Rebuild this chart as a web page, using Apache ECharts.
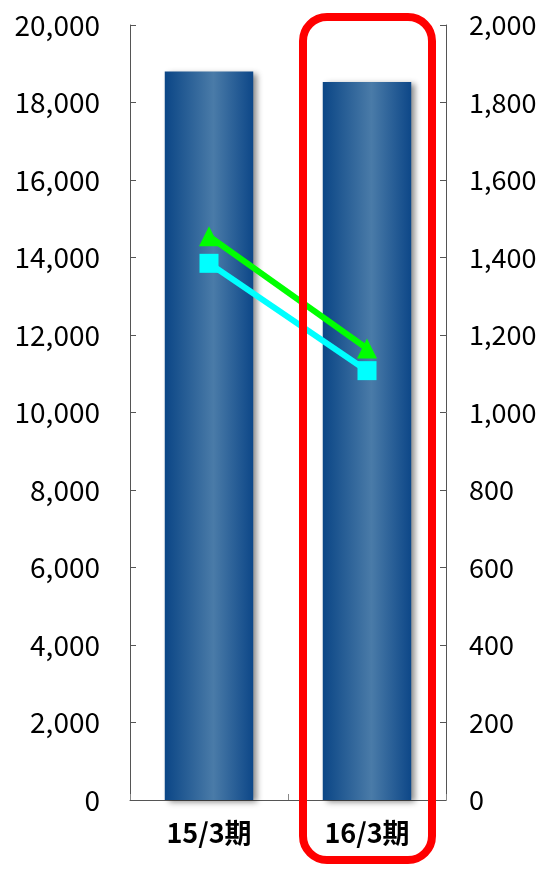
<!DOCTYPE html>
<html><head><meta charset="utf-8">
<script src="https://cdn.jsdelivr.net/npm/echarts@6/dist/echarts.min.js"></script>
<style>html,body{margin:0;padding:0;background:#fff}#c{width:537px;height:870px}</style>
</head><body><div id="c"></div>
<script>
const categories = ['15/3期', '16/3期'];
const barValues = [18800, 18530];
const greenValues = [1455, 1165];
const cyanValues = [1385, 1108];
const leftTicks = [0, 20000, 2000];
const rightTicks = [0, 2000, 200];

const FONT = '"Noto Sans CJK JP", sans-serif';
const chart = echarts.init(document.getElementById('c'), null, {renderer: 'canvas'});
const barGrad = new echarts.graphic.LinearGradient(0, 0, 1, 0, [
  {offset: 0, color: '#0b4686'},
  {offset: 0.55, color: '#4a7ba8'},
  {offset: 1, color: '#0d4788'}
]);
chart.setOption({
  animation: false,
  grid: {left: 130, right: 91, top: 25, bottom: 70, outerBoundsMode: 'none', containLabel: false},
  xAxis: {
    type: 'category', data: categories,
    axisLine: {lineStyle: {color: '#555', width: 1}},
    axisTick: {show: true, inside: true, length: 6, lineStyle: {color: '#888'}},
    axisLabel: {fontFamily: FONT, fontSize: 27, fontWeight: 'bold', color: '#000', margin: 19}
  },
  yAxis: [
    {type: 'value', min: leftTicks[0], max: leftTicks[1], interval: leftTicks[2], position: 'left',
     axisLine: {show: true, lineStyle: {color: '#555'}},
     axisTick: {show: true, inside: true, length: 6, lineStyle: {color: '#555'}},
     splitLine: {show: false},
     axisLabel: {fontFamily: FONT, fontSize: 28, color: '#000', margin: 30,
       formatter: v => v.toLocaleString('en-US')}},
    {type: 'value', min: rightTicks[0], max: rightTicks[1], interval: rightTicks[2], position: 'right',
     axisLine: {show: true, lineStyle: {color: '#555'}},
     axisTick: {show: true, inside: true, length: 6, lineStyle: {color: '#555'}},
     splitLine: {show: false},
     axisLabel: {fontFamily: FONT, fontSize: 27, color: '#000', margin: 23,
       formatter: v => v.toLocaleString('en-US')}}
  ],
  series: [
    {type: 'bar', data: barValues, yAxisIndex: 0, barWidth: '56%',
     itemStyle: {color: barGrad, shadowColor: 'rgba(0,0,0,0.45)', shadowBlur: 6, shadowOffsetX: 4, shadowOffsetY: 2}},
    {type: 'line', data: greenValues, yAxisIndex: 1, symbol: 'triangle', symbolSize: 20,
     lineStyle: {color: '#00ff00', width: 6}, itemStyle: {color: '#00ff00'}},
    {type: 'line', data: cyanValues, yAxisIndex: 1, symbol: 'rect', symbolSize: 19,
     lineStyle: {color: '#00ffff', width: 6}, itemStyle: {color: '#00ffff'}}
  ],
  graphic: [
    {type: 'rect', shape: {x: 303, y: 17, width: 129, height: 843, r: 24},
     style: {fill: 'none', stroke: '#ff0000', lineWidth: 8}, z: 100}
  ]
});
</script></body></html>
